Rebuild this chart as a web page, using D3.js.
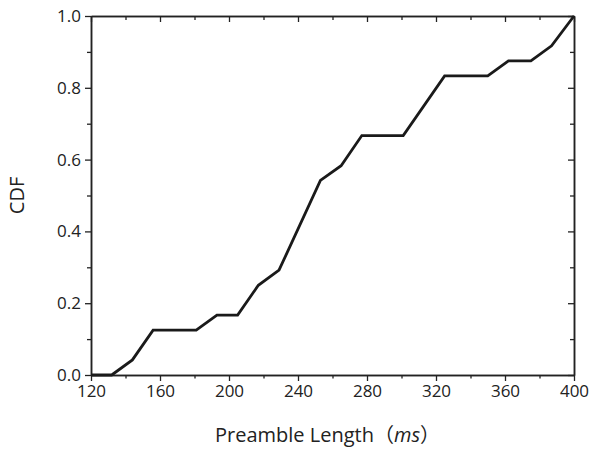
<!DOCTYPE html>
<html><head><meta charset="utf-8">
<script src="https://cdn.jsdelivr.net/npm/d3@7"></script>
<style>body{margin:0;background:#fff}</style>
</head><body>
<script>
const xValues = [120,132,144,156,181,193,205,217,229,253,265,277,301,325,350,362,375,387,400];
const cdfValues = [0,0,0.042,0.125,0.125,0.167,0.167,0.25,0.292,0.542,0.583,0.667,0.667,0.833,0.833,0.875,0.875,0.917,1.0];
const xTicks = [120,160,200,240,280,320,360,400];
const yTicks = [0.0,0.2,0.4,0.6,0.8,1.0];
const xMinor = [140,180,220,260,300,340,380];
const yMinor = [0.1,0.3,0.5,0.7,0.9];

(function(){
const W=592,H=450;
const m={left:91,right:18,top:16,bottom:75};
const svg=d3.select("body").append("svg").attr("width",W).attr("height",H);
const x=d3.scaleLinear().domain([120,400]).range([m.left,W-m.right]);
const y=d3.scaleLinear().domain([0,1]).range([H-m.bottom,m.top]);
const font="'Open Sans', 'Noto Sans CJK SC', sans-serif";
const ink="#222";

function style(g){
  g.select(".domain").attr("stroke",ink).attr("stroke-width",1.5);
  g.selectAll(".tick line").attr("stroke",ink).attr("stroke-width",1.3);
  g.selectAll("text").attr("font-family",font).attr("font-size",17).attr("fill",ink);
}
svg.append("g").attr("transform",`translate(0,${y(0)})`)
  .call(d3.axisBottom(x).tickValues(xTicks).tickSize(6).tickSizeOuter(0).tickPadding(4).tickFormat(d3.format("d"))).call(style);
svg.append("g").attr("transform",`translate(0,${y(0)})`)
  .call(d3.axisBottom(x).tickValues(xMinor).tickSize(3.5).tickSizeOuter(0).tickFormat("")).call(style);
svg.append("g").attr("transform",`translate(0,${y(1)})`)
  .call(d3.axisTop(x).tickValues(xTicks).tickSize(-6).tickSizeOuter(0).tickFormat("")).call(style);
svg.append("g").attr("transform",`translate(0,${y(1)})`)
  .call(d3.axisTop(x).tickValues(xMinor).tickSize(-4).tickSizeOuter(0).tickFormat("")).call(style);
svg.append("g").attr("transform",`translate(${x(120)},0)`)
  .call(d3.axisLeft(y).tickValues(yTicks).tickSize(6).tickSizeOuter(0).tickPadding(4).tickFormat(d3.format(".1f"))).call(style);
svg.append("g").attr("transform",`translate(${x(120)},0)`)
  .call(d3.axisLeft(y).tickValues(yMinor).tickSize(4).tickSizeOuter(0).tickFormat("")).call(style);
svg.append("g").attr("transform",`translate(${x(400)},0)`)
  .call(d3.axisRight(y).tickValues(yTicks).tickSize(-6).tickSizeOuter(0).tickFormat("")).call(style);
svg.append("g").attr("transform",`translate(${x(400)},0)`)
  .call(d3.axisRight(y).tickValues(yMinor).tickSize(-4).tickSizeOuter(0).tickFormat("")).call(style);

const pts=xValues.map((v,i)=>[v,cdfValues[i]]);
svg.append("path").datum(pts)
  .attr("fill","none").attr("stroke","#1a1a1a").attr("stroke-width",2.8)
  .attr("stroke-linejoin","miter")
  .attr("d",d3.line().x(d=>x(d[0])).y(d=>y(d[1])));

const xt=svg.append("text").attr("x",(x(120)+x(400))/2 - 5).attr("y",442)
  .attr("text-anchor","middle").attr("font-family",font).attr("font-size",20).attr("fill",ink);
xt.append("tspan").text("Preamble Length");
xt.append("tspan").attr("font-family","'Noto Sans CJK SC', sans-serif").text("（");
xt.append("tspan").attr("font-style","italic").text("ms");
xt.append("tspan").attr("font-family","'Noto Sans CJK SC', sans-serif").text("）");

svg.append("text").attr("transform",`translate(24,${(y(0)+y(1))/2}) rotate(-90)`)
  .attr("text-anchor","middle").attr("font-family",font).attr("font-size",20).attr("fill",ink).text("CDF");
})();
</script>
</body></html>
